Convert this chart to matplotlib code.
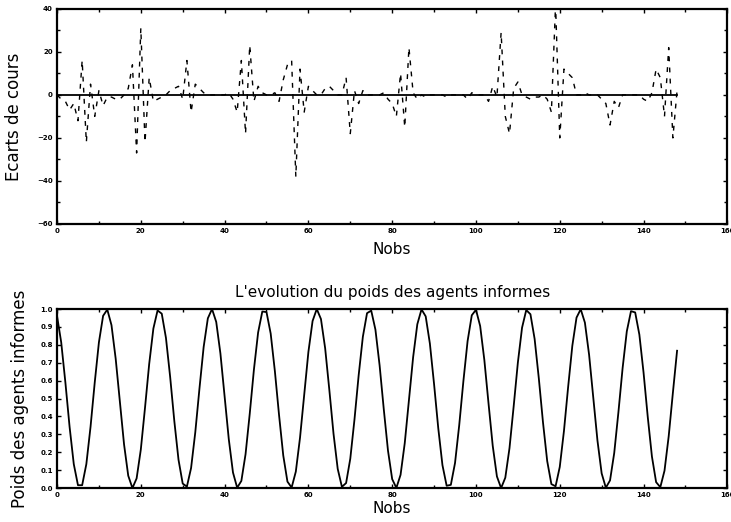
import matplotlib
matplotlib.use("Agg")
import matplotlib.pyplot as plt
import numpy as np
from matplotlib.ticker import MultipleLocator

# ---- data ----
nobs = list(range(0, 149))

ecarts = [0, -2, -3, -7, -4, -12, 16, -22, 5, -10, 2, -5, -1, -1, -2, -2, 0, 3, 14, -27,
          31, -22, 8, -3, -2, -1, 0, 2, 3, 4, -2, 16, -8, 5, 3, 1, 0, 0, 0, 0,
          0, 1, -2, -8, 16, -18, 23, -3, 4, 1, 0, 0, 1, -3, 7, 14, 16, -38, 12, -8,
          4, 2, 0, 0, 3, 4, 2, 0, 0, 8, -18, 2, -4, 2, 0, 0, 0, 0, 1, -2,
          -4, -10, 10, -15, 22, 1, -2, 0, -1, 0, 0, 0, 0, -1, 0, 0, 0, 0, -2, 1,
          0, 0, 0, -3, 4, -1, 29, -10, -18, 3, 6, 0, -1, -2, -1, -1, 0, -2, -8, 42,
          -20, 12, 10, 8, 0, 0, 1, 0, 0, 0, -2, -4, -14, -3, -6, 0, 0, 0, 0, 0,
          -2, -3, 1, 12, 8, -10, 22, -20, 2]

poids = [0.962, 0.814, 0.589, 0.342, 0.134, 0.016, 0.016, 0.134, 0.342, 0.589,
         0.814, 0.962, 0.997, 0.910, 0.723, 0.481, 0.244, 0.069, 0.000, 0.054,
         0.215, 0.448, 0.693, 0.891, 0.992, 0.974, 0.839, 0.622, 0.374, 0.158,
         0.025, 0.008, 0.112, 0.311, 0.556, 0.788, 0.948, 1.000, 0.928, 0.752,
         0.514, 0.273, 0.087, 0.002, 0.040, 0.189, 0.415, 0.662, 0.869, 0.986,
         0.983, 0.863, 0.653, 0.407, 0.182, 0.036, 0.003, 0.092, 0.281, 0.523,
         0.760, 0.933, 1.000, 0.944, 0.781, 0.548, 0.303, 0.107, 0.007, 0.028,
         0.164, 0.383, 0.630, 0.845, 0.977, 0.991, 0.885, 0.685, 0.439, 0.209,
         0.050, 0.001, 0.074, 0.251, 0.490, 0.731, 0.915, 0.998, 0.959, 0.807,
         0.580, 0.334, 0.128, 0.013, 0.018, 0.140, 0.351, 0.598, 0.821, 0.965,
         0.996, 0.905, 0.715, 0.472, 0.236, 0.065, 0.000, 0.058, 0.223, 0.457,
         0.701, 0.896, 0.994, 0.971, 0.833, 0.613, 0.366, 0.151, 0.022, 0.010,
         0.118, 0.319, 0.565, 0.795, 0.952, 0.999, 0.924, 0.745, 0.506, 0.265,
         0.082, 0.002, 0.043, 0.196, 0.424, 0.670, 0.875, 0.988, 0.981, 0.857,
         0.645, 0.398, 0.176, 0.033, 0.005, 0.097, 0.289, 0.532, 0.767]

zeros = [0] * len(nobs)

top_yticks = [-60, -40, -20, 0, 20, 40]
bot_yticks = [0.0, 0.1, 0.2, 0.3, 0.4, 0.5, 0.6, 0.7, 0.8, 0.9, 1.0]
xticks = [0, 20, 40, 60, 80, 100, 120, 140, 160]

plt.rcParams['font.family'] = ['DejaVu Sans']

fig = plt.figure(figsize=(7.31, 5.22), dpi=100)
ax1 = fig.add_axes([0.078, 0.571, 0.917, 0.412])
ax2 = fig.add_axes([0.078, 0.065, 0.917, 0.343])

def style(ax):
    for s in ax.spines.values():
        s.set_linewidth(1.6)
    ax.tick_params(direction='in', which='both', labelsize=5, width=1.0,
                   top=True, right=True, pad=3)
    ax.tick_params(which='major', length=3)
    ax.tick_params(which='minor', length=2)
    for lab in ax.get_xticklabels() + ax.get_yticklabels():
        lab.set_fontweight('bold')

# top panel
ax1.plot(nobs, zeros, color='black', lw=1.3)
ax1.plot(nobs, ecarts, color='black', lw=1.0, linestyle=(0, (3.5, 4.5)))
ax1.set_xlim(0, 160)
ax1.set_ylim(-60, 40)
ax1.set_xticks(xticks)
ax1.set_yticks(top_yticks)
ax1.xaxis.set_minor_locator(MultipleLocator(10))
ax1.yaxis.set_minor_locator(MultipleLocator(10))
style(ax1)
ax1.set_xlabel('Nobs', fontsize=11, labelpad=6)
ax1.set_ylabel('Ecarts de cours', fontsize=12, labelpad=10)

# bottom panel
ax2.plot(nobs, poids, color='black', lw=1.3)
ax2.set_xlim(0, 160)
ax2.set_ylim(0, 1.0)
ax2.set_xticks(xticks)
ax2.set_yticks(bot_yticks)
ax2.set_yticklabels(['%.1f' % v for v in bot_yticks])
ax2.xaxis.set_minor_locator(MultipleLocator(10))
style(ax2)
ax2.set_xlabel('Nobs', fontsize=11, labelpad=2)
ax2.set_ylabel('Poids des agents informes', fontsize=12, labelpad=8)
ax2.set_title("L'evolution du poids des agents informes", fontsize=11, pad=9)

fig.savefig('out.png', dpi=100)
